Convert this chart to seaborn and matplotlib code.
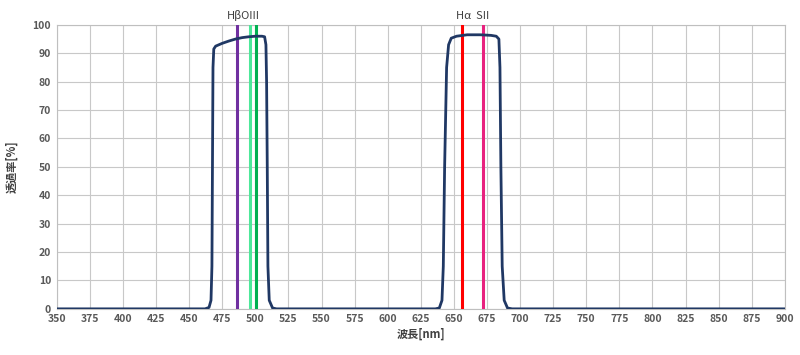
import pandas as pd
import matplotlib
matplotlib.use('Agg')
import matplotlib.pyplot as plt
import seaborn as sns

# filter transmission curve
wavelength = [350, 462, 465, 466.5, 467.2, 467.6, 468, 468.6, 470, 475, 480, 485, 490, 495,
              500, 505, 507, 508, 508.5, 509, 509.5, 510.5, 513, 516,
              636, 639, 641, 642, 643, 644.5, 646, 648, 652, 660, 670, 678, 682, 684,
              684.8, 685.5, 686.5, 688, 690.5, 694, 900]
transmission = [0, 0, 0.5, 3, 15, 50, 85, 91.5, 92.5, 93.5, 94.3, 95, 95.5, 95.8,
                96, 96, 95.8, 93, 80, 50, 15, 3, 0.3, 0,
                0, 0.3, 3, 15, 50, 85, 93, 95.3, 96, 96.5, 96.5, 96.3, 96, 95,
                85, 50, 15, 3, 0.3, 0, 0]

# emission lines
line_names = ['Hβ', 'OIII', 'OIII', 'Hα', 'SII']
line_nm = [486.1, 495.9, 500.7, 656.3, 672.0]
line_colors = ['#7030a0', '#4de89a', '#00b050', '#ff0000', '#e8217f']

df = pd.DataFrame({'nm': wavelength, 'T': transmission})

sns.set_style('white')
plt.rcParams['font.family'] = ['Noto Sans CJK JP', 'DejaVu Sans']

fig = plt.figure(figsize=(8, 3.55), dpi=100)
ax = fig.add_axes([0.071, 0.130, 0.910, 0.800])

for nm, c in zip(line_nm, line_colors):
    ax.axvline(nm, color=c, lw=2.2, zorder=3)

sns.lineplot(data=df, x='nm', y='T', ax=ax, color='#203864', lw=2, zorder=4)

ax.set_xlim(350, 900)
ax.set_ylim(0, 100)
ax.set_xticks(range(350, 901, 25))
ax.set_yticks(range(0, 101, 10))
ax.grid(True, color='#c8c8c8', lw=0.8)
for s in ax.spines.values():
    s.set_color('#bfbfbf')
    s.set_linewidth(0.8)
ax.tick_params(axis='both', labelsize=7.5, colors='#595959', length=0, pad=4)
for lab in ax.get_xticklabels() + ax.get_yticklabels():
    lab.set_fontweight('bold')

ax.set_xlabel('波長[nm]', fontsize=8, color='#404040', fontweight='bold', labelpad=2)
ax.set_ylabel('透過率[%]', fontsize=8, color='#404040', fontweight='bold', labelpad=10)

ax.text(491, 101.5, 'HβOIII', ha='center', va='bottom', fontsize=8, color='#404040')
ax.text(664, 101.5, 'Hα  SII', ha='center', va='bottom', fontsize=8, color='#404040')

fig.savefig('out.png', dpi=100)
